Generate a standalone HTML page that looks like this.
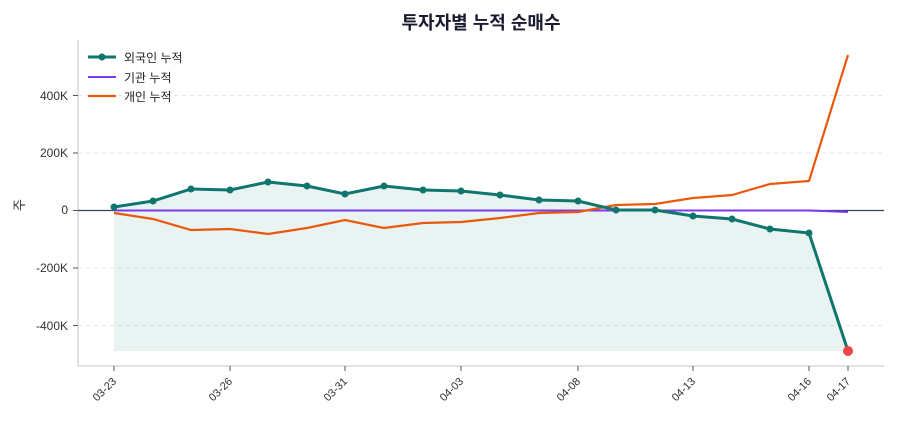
<!DOCTYPE html>
<html><head><meta charset="utf-8"><style>
body{margin:0;background:#fff;}
text{font-family:"Liberation Sans","Noto Sans CJK KR",sans-serif;}
</style></head><body>
<svg width="900" height="420" xmlns="http://www.w3.org/2000/svg">
<rect width="900" height="420" fill="#fff"/>
<text x="481" y="29" font-size="18" font-weight="bold" text-anchor="middle" fill="#1a1a2e">투자자별 누적 순매수</text>
<g stroke="#e2e5ea" stroke-dasharray="4,4" stroke-width="1">
<line x1="78" x2="884" y1="95.5" y2="95.5"/><line x1="78" x2="884" y1="153" y2="153"/>
<line x1="78" x2="884" y1="268" y2="268"/><line x1="78" x2="884" y1="325.5" y2="325.5"/>
</g>
<line x1="78" y1="40" x2="78" y2="366" stroke="#d5d9df" stroke-width="1.5"/>
<line x1="78" y1="366" x2="884" y2="366" stroke="#d5d9df" stroke-width="1.5"/>
<g font-size="12" fill="#333" text-anchor="end">
<text x="68" y="100">400K</text><text x="68" y="157">200K</text><text x="68" y="214">0</text>
<text x="68" y="272">-200K</text><text x="68" y="330">-400K</text>
</g>
<g stroke="#555" stroke-width="1">
<line x1="73" x2="78" y1="95.5" y2="95.5"/><line x1="73" x2="78" y1="153" y2="153"/><line x1="73" x2="78" y1="210.5" y2="210.5"/><line x1="73" x2="78" y1="268" y2="268"/><line x1="73" x2="78" y1="325.5" y2="325.5"/>
<line x1="114" x2="114" y1="366" y2="371"/><line x1="230" x2="230" y1="366" y2="371"/><line x1="345" x2="345" y1="366" y2="371"/><line x1="461" x2="461" y1="366" y2="371"/><line x1="578" x2="578" y1="366" y2="371"/><line x1="693" x2="693" y1="366" y2="371"/><line x1="809" x2="809" y1="366" y2="371"/><line x1="848" x2="848" y1="366" y2="371"/>
</g>
<text transform="translate(24,205) rotate(-90)" font-size="13" fill="#333" text-anchor="middle">주</text>
<g font-size="11" fill="#333" text-anchor="end">
<text transform="translate(117,382) rotate(-45)">03-23</text>
<text transform="translate(233,382) rotate(-45)">03-26</text>
<text transform="translate(348,382) rotate(-45)">03-31</text>
<text transform="translate(464,382) rotate(-45)">04-03</text>
<text transform="translate(581,382) rotate(-45)">04-08</text>
<text transform="translate(696,382) rotate(-45)">04-13</text>
<text transform="translate(812,382) rotate(-45)">04-16</text>
<text transform="translate(851,382) rotate(-45)">04-17</text>
</g>
<polygon fill="#0f766e" fill-opacity="0.09" points="114,351 114,207 153,201 191,189 230,190 268,182 307,186 345,194 384,186 423,190 461,191 500,195 539,200 578,201 616,210 655,210 693,216 732,219 770,229 809,233 848,351"/>
<line x1="78" x2="884" y1="210.5" y2="210.5" stroke="#334155" stroke-width="1.2"/>
<polyline fill="none" stroke="#7c3aed" stroke-width="2" points="114,210.5 809,210.5 848,212"/>
<polyline fill="none" stroke="#ea580c" stroke-width="2.2" points="114,213 153,219 191,230 230,229 268,234 307,228 345,220 384,228 423,223 461,222 500,218 539,213 578,212 616,205 655,204 693,198 732,195 770,184 809,181 848,55"/>
<polyline fill="none" stroke="#0f766e" stroke-width="3" points="114,207 153,201 191,189 230,190 268,182 307,186 345,194 384,186 423,190 461,191 500,195 539,200 578,201 616,210 655,210 693,216 732,219 770,229 809,233 848,351"/>
<g fill="#0f766e">
<circle cx="114" cy="207" r="3.5"/><circle cx="153" cy="201" r="3.5"/><circle cx="191" cy="189" r="3.5"/><circle cx="230" cy="190" r="3.5"/><circle cx="268" cy="182" r="3.5"/><circle cx="307" cy="186" r="3.5"/><circle cx="345" cy="194" r="3.5"/><circle cx="384" cy="186" r="3.5"/><circle cx="423" cy="190" r="3.5"/><circle cx="461" cy="191" r="3.5"/><circle cx="500" cy="195" r="3.5"/><circle cx="539" cy="200" r="3.5"/><circle cx="578" cy="201" r="3.5"/><circle cx="616" cy="210" r="3.5"/><circle cx="655" cy="210" r="3.5"/><circle cx="693" cy="216" r="3.5"/><circle cx="732" cy="219" r="3.5"/><circle cx="770" cy="229" r="3.5"/><circle cx="809" cy="233" r="3.5"/>
</g>
<circle cx="848" cy="351" r="5" fill="#ef4444"/>
<g font-size="12" fill="#222">
<line x1="88" x2="116" y1="57" y2="57" stroke="#0f766e" stroke-width="3"/><circle cx="102" cy="57" r="3.5" fill="#0f766e"/>
<text x="124" y="62">외국인 누적</text>
<line x1="88" x2="116" y1="77" y2="77" stroke="#7c3aed" stroke-width="2"/>
<text x="124" y="82">기관 누적</text>
<line x1="88" x2="116" y1="96" y2="96" stroke="#ea580c" stroke-width="2.2"/>
<text x="124" y="101">개인 누적</text>
</g>
</svg>
</body></html>
